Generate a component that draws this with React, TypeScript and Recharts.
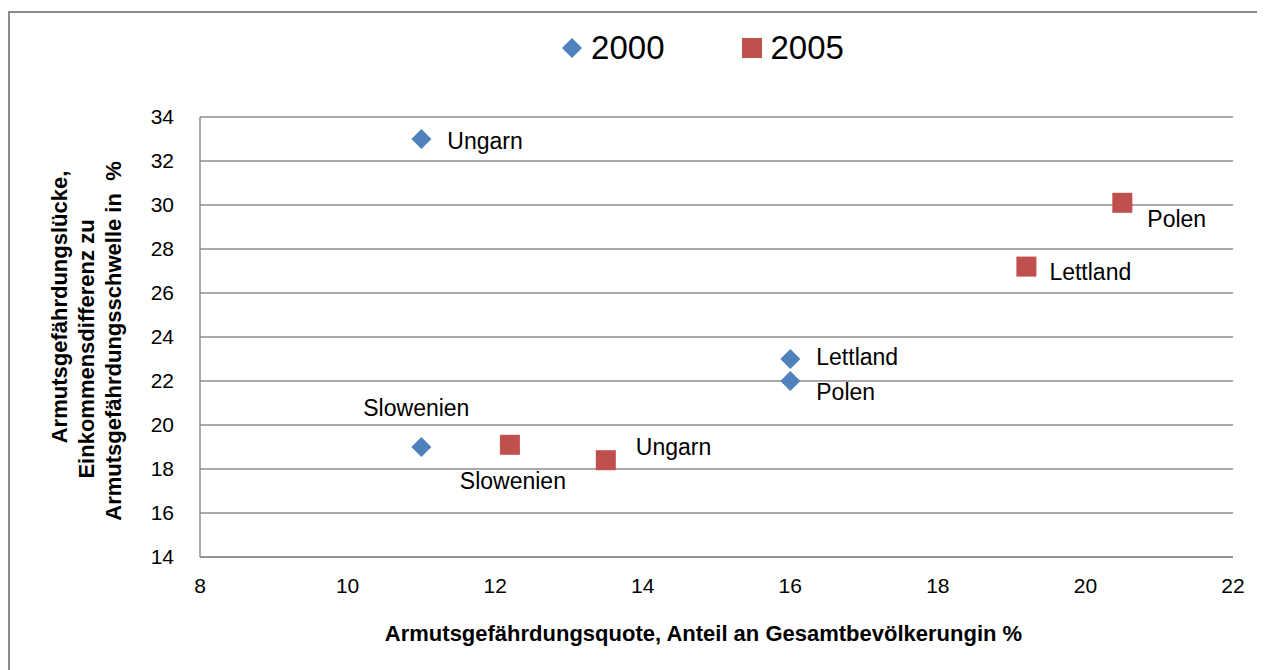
import { ScatterChart, Scatter, XAxis, YAxis, CartesianGrid, Legend } from "recharts";

// 2000
const names2000 = ["Ungarn", "Lettland", "Polen", "Slowenien"];
const quote2000 = [11, 16, 16, 11];
const gap2000 = [33, 23, 22, 19];

// 2005
const names2005 = ["Polen", "Lettland", "Slowenien", "Ungarn"];
const quote2005 = [20.5, 19.2, 12.2, 13.5];
const gap2005 = [30.1, 27.2, 19.1, 18.4];

const xTicks = [8, 10, 12, 14, 16, 18, 20, 22];
const yTicks = [14, 16, 18, 20, 22, 24, 26, 28, 30, 32, 34];

const BLUE = "#4F81BD";
const RED = "#C0504D";
const GRID = "#8c8c8c";
const FONT = "'Liberation Sans', Arial, sans-serif";

const data2000 = names2000.map((name, i) => ({ name, x: quote2000[i], y: gap2000[i] }));
const data2005 = names2005.map((name, i) => ({ name, x: quote2005[i], y: gap2005[i] }));

// label placement relative to marker centre
const place2000: Record<string, [number, number, string]> = {
  Ungarn: [26, 2, "start"],
  Lettland: [26, -2, "start"],
  Polen: [26, 11, "start"],
  Slowenien: [-5, -39, "middle"],
};
const place2005: Record<string, [number, number, string]> = {
  Polen: [25, 16, "start"],
  Lettland: [23, 5, "start"],
  Slowenien: [3, 36, "middle"],
  Ungarn: [30, -13, "start"],
};

const labelText = (cx: number, cy: number, p: [number, number, string], name: string) => (
  <text
    x={cx + p[0]}
    y={cy + p[1]}
    textAnchor={p[2] as any}
    dominantBaseline="central"
    fontSize={23}
    fontFamily={FONT}
    fill="#000"
  >
    {name}
  </text>
);

const Diamond = (props: any) => {
  const { cx, cy, payload } = props;
  const r = 10;
  return (
    <g>
      <path d={`M${cx},${cy - r}L${cx + r},${cy}L${cx},${cy + r}L${cx - r},${cy}Z`} fill={BLUE} />
      {labelText(cx, cy, place2000[payload.name], payload.name)}
    </g>
  );
};

const Square = (props: any) => {
  const { cx, cy, payload } = props;
  const s = 10;
  return (
    <g>
      <rect x={cx - s} y={cy - s} width={2 * s} height={2 * s} fill={RED} />
      {labelText(cx, cy, place2005[payload.name], payload.name)}
    </g>
  );
};

const YTitle = (props: any) => {
  const vb = props.viewBox || { x: 0, y: 0 };
  const lines: [string, number, number][] = [
    ["Armutsgefährdungslücke,", vb.x - 81, 299],
    ["Einkommensdifferenz zu", vb.x - 54, 341],
    ["Armutsgefährdungsschwelle in  %", vb.x - 27, 333],
  ];
  return (
    <g>
      {lines.map(([t, x, y]) => (
        <text
          key={t}
          x={x}
          y={y}
          transform={`rotate(-90 ${x} ${y})`}
          textAnchor="middle"
          dominantBaseline="central"
          fontSize={22}
          fontWeight="bold"
          fontFamily={FONT}
          fill="#000"
          style={{ whiteSpace: "pre" }}
        >
          {t}
        </text>
      ))}
    </g>
  );
};

const XTitle = (props: any) => {
  const vb = props.viewBox || { x: 0, y: 0, width: 0 };
  return (
    <text
      x={vb.x + vb.width / 2 - 13}
      y={625}
      textAnchor="middle"
      dominantBaseline="central"
      fontSize={22}
      fontWeight="bold"
      fontFamily={FONT}
      fill="#000"
    >
      Armutsgefährdungsquote, Anteil an Gesamtbevölkerungin %
    </text>
  );
};

const LegendBox = () => (
  <div
    style={{
      display: "flex",
      justifyContent: "center",
      alignItems: "center",
      fontFamily: FONT,
      fontSize: 33,
      paddingLeft: 132,
    }}
  >
    <svg width={22} height={22} style={{ marginRight: 8 }}>
      <path d="M11,1L21,11L11,21L1,11Z" fill={BLUE} />
    </svg>
    <span style={{ marginRight: 76 }}>2000</span>
    <svg width={22} height={22} style={{ marginRight: 8 }}>
      <rect x={1} y={1} width={20} height={20} fill={RED} />
    </svg>
    <span>2005</span>
  </div>
);

export default function App() {
  return (
    <div style={{ position: "relative", width: 1257, height: 662, overflow: "hidden" }}>
      <div
        style={{
          position: "absolute",
          left: 0,
          top: 3,
          width: 1400,
          height: 800,
          borderTop: `2px solid ${GRID}`,
          borderLeft: `2px solid ${GRID}`,
        }}
      />
      <ScatterChart
        width={1257}
        height={662}
        margin={{ top: 109, right: 32, bottom: 53, left: 132 }}
        style={{ position: "absolute", left: 0, top: 0 }}
      >
        <CartesianGrid horizontal vertical={false} stroke={GRID} strokeWidth={1.5} />
        <XAxis
          type="number"
          dataKey="x"
          domain={[8, 22]}
          ticks={xTicks}
          height={60}
          axisLine={{ stroke: GRID, strokeWidth: 1.5 }}
          tickLine={false}
          tickSize={6}
          tickMargin={15}
          tick={{ fontSize: 21, fontFamily: FONT, fill: "#000" }}
          interval={0}
          label={<XTitle />}
        />
        <YAxis
          type="number"
          dataKey="y"
          domain={[14, 34]}
          ticks={yTicks}
          width={60}
          axisLine={{ stroke: GRID, strokeWidth: 1.5 }}
          tickLine={false}
          tickSize={8}
          tickMargin={18}
          tick={{ fontSize: 21, fontFamily: FONT, fill: "#000" }}
          interval={0}
          label={<YTitle />}
        />
        <Legend
          layout="horizontal"
          verticalAlign="middle"
          align="center"
          content={<LegendBox />}
          wrapperStyle={{ top: 21, left: 0, width: 1257 }}
        />
        <Scatter name="2000" data={data2000} shape={<Diamond />} isAnimationActive={false} />
        <Scatter name="2005" data={data2005} shape={<Square />} isAnimationActive={false} />
      </ScatterChart>
    </div>
  );
}
